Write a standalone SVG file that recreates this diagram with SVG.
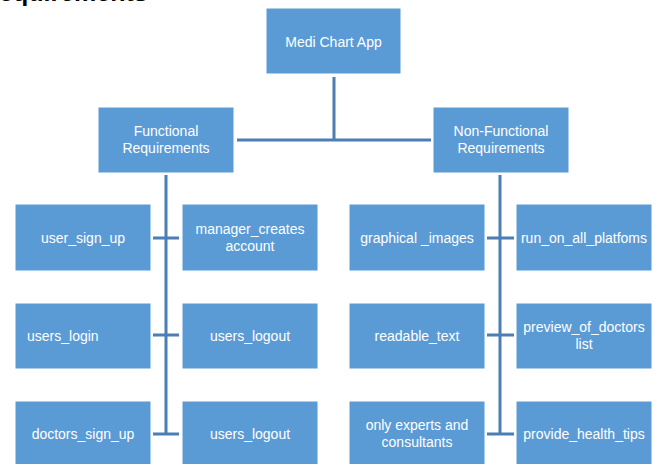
<svg xmlns="http://www.w3.org/2000/svg" width="660" height="464" viewBox="0 0 660 464">
<style>
.box{fill:#5B9BD5;stroke:#FFFFFF;stroke-width:1}
.t{font-family:"Liberation Sans",Arial,sans-serif;font-size:14px;fill:#FFFFFF;text-anchor:middle}
.ln{stroke:#4A7EB5;stroke-width:3;fill:none}
.title{font-family:"Liberation Sans",Arial,sans-serif;font-size:25px;font-weight:bold;fill:#000000}
</style>
<rect width="660" height="464" fill="#FFFFFF"/>
<text class="title" x="-1" y="1">equirements</text>
<g id="connectors">
<path class="ln" d="M334 77V140M237 140H431"/>
<path class="ln" d="M166 175V434M153 238H179M153 335H179M153 434H179"/>
<path class="ln" d="M500 175V434M487 238H514M487 335H514M487 434H514"/>
</g>
<g id="root"><rect class="box" x="266" y="8" width="135" height="66"/><text class="t" x="333.5" y="47">Medi Chart App</text></g>
<g id="functional"><rect class="box" x="98" y="107" width="136" height="66"/><text class="t" x="166" y="136">Functional</text><text class="t" x="166" y="153">Requirements</text></g>
<g id="nonfunctional"><rect class="box" x="433" y="107" width="136" height="66"/><text class="t" x="501" y="136">Non-Functional</text><text class="t" x="501" y="153">Requirements</text></g>
<g id="user_sign_up"><rect class="box" x="15" y="204" width="136" height="67"/><text class="t" x="83" y="243">user_sign_up</text></g>
<g id="manager_creates"><rect class="box" x="182" y="204" width="136" height="67"/><text class="t" x="250" y="234">manager_creates</text><text class="t" x="250" y="251">account</text></g>
<g id="users_login"><rect class="box" x="15" y="303" width="136" height="66"/><text class="t" x="27" y="341" style="text-anchor:start">users_login</text></g>
<g id="users_logout1"><rect class="box" x="182" y="303" width="136" height="66"/><text class="t" x="250" y="341">users_logout</text></g>
<g id="doctors_sign_up"><rect class="box" x="15" y="401" width="136" height="67"/><text class="t" x="83" y="439">doctors_sign_up</text></g>
<g id="users_logout2"><rect class="box" x="182" y="401" width="136" height="67"/><text class="t" x="250" y="439">users_logout</text></g>
<g id="graphical_images"><rect class="box" x="349" y="204" width="136" height="67"/><text class="t" x="417" y="243">graphical _images</text></g>
<g id="run_on_all"><rect class="box" x="516" y="204" width="136" height="67"/><text class="t" x="584" y="243">run_on_all_platfoms</text></g>
<g id="readable_text"><rect class="box" x="349" y="303" width="136" height="66"/><text class="t" x="417" y="341">readable_text</text></g>
<g id="preview"><rect class="box" x="516" y="303" width="136" height="66"/><text class="t" x="584" y="332">preview_of_doctors</text><text class="t" x="584" y="349">list</text></g>
<g id="experts"><rect class="box" x="349" y="401" width="136" height="67"/><text class="t" x="417" y="430">only experts and</text><text class="t" x="417" y="447">consultants</text></g>
<g id="health_tips"><rect class="box" x="516" y="401" width="136" height="67"/><text class="t" x="584" y="439">provide_health_tips</text></g>
</svg>
